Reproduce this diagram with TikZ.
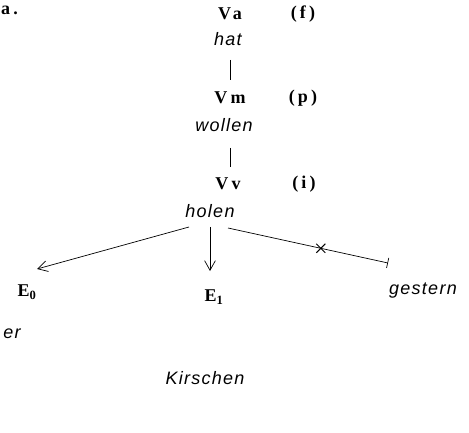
\documentclass[tikz,border=0pt]{standalone}
\usepackage{fontspec}
\usepackage{tikz}
\usetikzlibrary{arrows.meta,shapes.misc}
\newfontfamily\wordfont[LetterSpace=7]{Liberation Sans}
\newfontfamily\catfont[LetterSpace=18]{Liberation Serif}

\begin{document}
\begin{tikzpicture}[
  x=1pt,y=-1pt,
  every node/.style={inner sep=1pt},
  cat/.style={font=\fontsize{18}{20}\selectfont\catfont\bfseries},
  word/.style={font=\fontsize{18}{20}\selectfont\wordfont\itshape},
  link/.style={line width=0.7pt},
  arr/.style={-{Straight Barb[length=3.4mm,width=3.8mm]},line width=0.7pt},
  tee/.style={-{Bar[width=3.6mm]},line width=0.7pt}
]
  \useasboundingbox (0,0) rectangle (469,433);
  \node[cat,anchor=west,inner sep=0pt] (lbl) at (1,10) {a.};
  % verb chain
  \node[cat] (va) at (230,14) {Va};
  \node[cat] (vaf) at (303,14) {(f)};
  \node[word] (hat) at (228,39) {hat};
  \node[cat] (vm) at (230,98) {Vm};
  \node[cat] (vmf) at (303,98) {(p)};
  \node[word] (wollen) at (224,125) {wollen};
  \node[cat] (vv) at (228,184) {Vv};
  \node[cat] (vvf) at (304,184) {(i)};
  \node[word] (holen) at (210,211) {holen};

  \coordinate (hatb) at (230,60);
  \coordinate (vmt) at (230,80);
  \coordinate (wolb) at (230,148);
  \coordinate (vvt) at (230,167);
  \draw[link] (hatb) -- (vmt);
  \draw[link] (wolb) -- (vvt);

  % dependents
  \node[cat] (e0) at (27,292) {E\textsubscript{0}};
  \node[cat] (e1) at (214,297) {E\textsubscript{1}};
  \node[word] (gestern) at (423,291) {gestern};
  \node[word] (er) at (12,334) {er};
  \node[word] (kirschen) at (205,378) {Kirschen};

  \coordinate (h0) at (189,227);
  \coordinate (h1) at (210,227);
  \coordinate (h2) at (228,228);
  \coordinate (e0t) at (37,269);
  \coordinate (e1t) at (210,271);
  \coordinate (gend) at (388,263);

  \draw[arr] (h0) -- (e0t);
  \draw[arr] (h1) -- (e1t);
  \draw[tee] (h2) -- node[pos=0.58,cross out,draw,line width=1pt,
    minimum size=8pt,inner sep=0pt] (xmark) {} (gend);
\end{tikzpicture}
\end{document}
